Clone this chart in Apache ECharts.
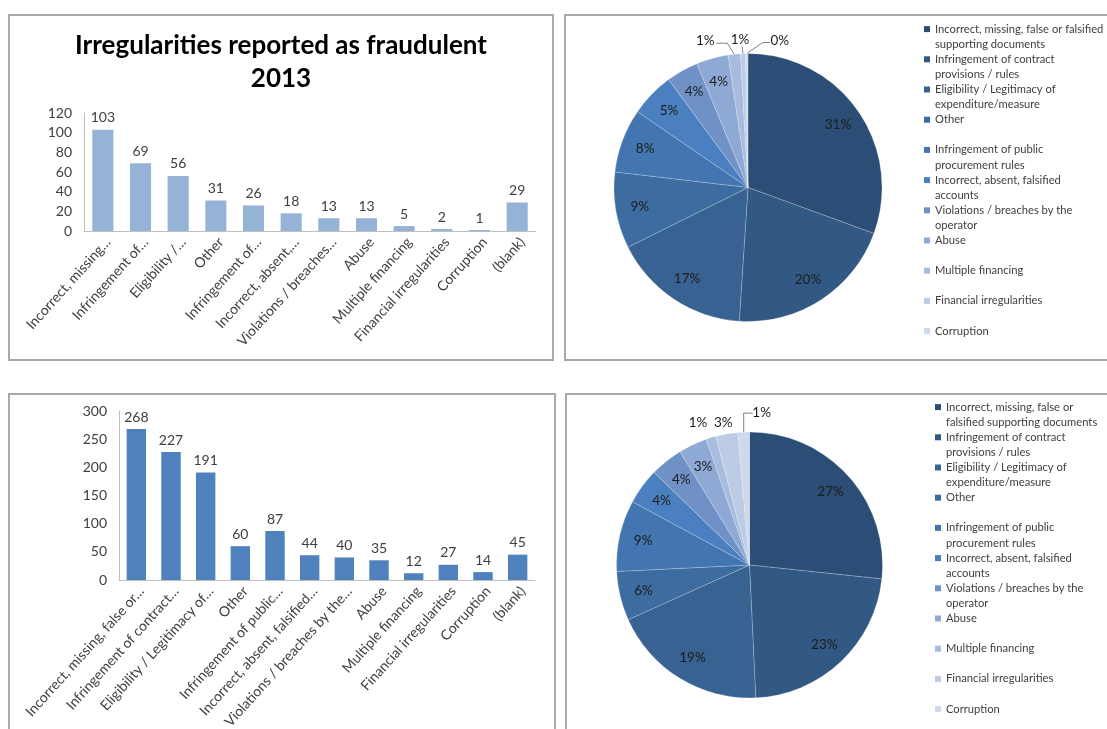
<!DOCTYPE html>
<html>
<head>
<meta charset="utf-8">
<title>Irregularities reported as fraudulent</title>
<script src="https://cdn.jsdelivr.net/npm/echarts@6/dist/echarts.min.js"></script>
<style>
  html, body { margin: 0; padding: 0; background: #ffffff; }
  #main { width: 1107px; height: 729px; }
</style>
</head>
<body>
<div id="main"></div>
<script>
// ---- data ----
const categories = [
  'Incorrect, missing, false or falsified supporting documents',
  'Infringement of contract provisions / rules',
  'Eligibility / Legitimacy of expenditure/measure',
  'Other',
  'Infringement of public procurement rules',
  'Incorrect, absent, falsified accounts',
  'Violations / breaches by the operator',
  'Abuse',
  'Multiple financing',
  'Financial irregularities',
  'Corruption',
  '(blank)'
];

// bar axis tick labels as printed (shortened)
const tickLabels2013 = [
  'Incorrect, missing…', 'Infringement of…', 'Eligibility /…', 'Other',
  'Infringement of…', 'Incorrect, absent,…', 'Violations / breaches…', 'Abuse',
  'Multiple financing', 'Financial irregularities', 'Corruption', '(blank)'
];
const tickLabelsSecond = [
  'Incorrect, missing, false or…', 'Infringement of contract…', 'Eligibility / Legitimacy of…', 'Other',
  'Infringement of public…', 'Incorrect, absent, falsified…', 'Violations / breaches by the…', 'Abuse',
  'Multiple financing', 'Financial irregularities', 'Corruption', '(blank)'
];

const values2013 = [103, 69, 56, 31, 26, 18, 13, 13, 5, 2, 1, 29];
const valuesSecond = [268, 227, 191, 60, 87, 44, 40, 35, 12, 27, 14, 45];

// legend entries (wrapped as printed)
const legendLinesTop = [
  'Incorrect, missing, false or falsified\nsupporting documents',
  'Infringement of contract\nprovisions / rules',
  'Eligibility / Legitimacy of\nexpenditure/measure',
  'Other',
  'Infringement of public\nprocurement rules',
  'Incorrect, absent, falsified\naccounts',
  'Violations / breaches by the\noperator',
  'Abuse',
  'Multiple financing',
  'Financial irregularities',
  'Corruption'
];
const legendLinesBottom = [
  'Incorrect, missing, false or\nfalsified supporting documents',
  'Infringement of contract\nprovisions / rules',
  'Eligibility / Legitimacy of\nexpenditure/measure',
  'Other',
  'Infringement of public\nprocurement rules',
  'Incorrect, absent, falsified\naccounts',
  'Violations / breaches by the\noperator',
  'Abuse',
  'Multiple financing',
  'Financial irregularities',
  'Corruption'
];

// ---- styling ----
const FONT = 'Lato';
const TXT = '#404040';
const pieColors = ['#2C4E76', '#325884', '#386292', '#3D6CA1', '#4376B0', '#4A80BF',
                   '#6F91C6', '#8EA9D3', '#A8BCDD', '#BDCCE5', '#CFD9EC'];

// pie geometry
const PIE_TOP = { cx: 748, cy: 187.5, r: 134 };
const PIE_BOT = { cx: 749.5, cy: 565, r: 133 };

// callout placement for the thin slices (offsets from the slice's outer-edge midpoint)
const calloutsTop = {
  8:  { dx: -29, dy: -14, line: (ax, ay, lx, ly) => [[lx + 11, ly + 3], [ax - 7, ly + 3], [ax, ay]] },
  9:  { dx: -3,  dy: -14, line: (ax, ay, lx, ly) => [[lx + 2, ly + 7], [lx + 2.5, ly + 10], [ax, ay]] },
  10: { dx: 33,  dy: -13, line: (ax, ay, lx, ly) => [[lx - 10, ly + 2], [lx - 17, ly + 2], [ax, ay]] }
};
const calloutsBottom = {
  8:  { dx: -13, dy: -15 },
  9:  { dx: -3.5, dy: -11 },
  10: { dx: 18, dy: -19, line: (ax, ay, lx, ly) => [[ax, ay], [ax, ly], [lx - 9, ly]] }
};

// legend marker: 6x6 square beside the first text line of a two-line slot
const legendIcon = 'path://M0,0L0,0M0,4.5L6,4.5L6,10.5L0,10.5ZM0,30L0,30';

function pieData(values, callouts) {
  return values.slice(0, 11).map((v, i) => {
    const c = callouts[i];
    return {
      name: categories[i],
      value: v,
      label: { position: c ? 'outside' : 'inside' },
      labelLine: { show: !!(c && c.line) }
    };
  });
}

function pieLabelLayout(values, geo, callouts) {
  const vals = values.slice(0, 11);
  const total = vals.reduce((a, b) => a + b, 0);
  const mids = [];
  let acc = 0;
  vals.forEach(v => { mids.push((acc + v / 2) / total * Math.PI * 2); acc += v; });
  return function (p) {
    const a = mids[p.dataIndex];
    const sx = Math.sin(a), sy = -Math.cos(a);
    const c = callouts[p.dataIndex];
    if (!c) {
      return { x: geo.cx + sx * geo.r * 0.82, y: geo.cy + sy * geo.r * 0.82,
               align: 'center', verticalAlign: 'middle' };
    }
    const ax = geo.cx + sx * geo.r, ay = geo.cy + sy * geo.r;
    const lx = ax + c.dx, ly = ay + c.dy;
    const out = { x: lx, y: ly, align: 'center', verticalAlign: 'middle' };
    if (c.line) out.labelLinePoints = c.line(ax, ay, lx, ly);
    return out;
  };
}

function pieSeries(values, geo, callouts) {
  return {
    type: 'pie',
    center: [geo.cx, geo.cy],
    radius: geo.r,
    startAngle: 90,
    clockwise: true,
    percentPrecision: 0,
    avoidLabelOverlap: false,
    color: pieColors,
    data: pieData(values, callouts),
    itemStyle: { borderColor: 'rgba(255,255,255,0.35)', borderWidth: 0.6 },
    label: { formatter: '{d}%', fontFamily: FONT, fontSize: 13.5, color: '#1c1c1c' },
    labelLine: { length: 5, length2: 5, lineStyle: { color: '#808080', width: 1 } },
    labelLayout: pieLabelLayout(values, geo, callouts),
    emphasis: { disabled: true }
  };
}

function categoryAxis(gridIndex, ticks, fontSize) {
  return {
    type: 'category', gridIndex, data: categories,
    axisLine: { lineStyle: { color: '#BFBFBF', width: 1 } },
    axisTick: { show: false },
    axisLabel: { interval: 0, rotate: 48, margin: 4, verticalAlign: 'top',
                 fontFamily: FONT, fontSize, color: TXT,
                 formatter: (v, i) => ticks[i] }
  };
}

function valueAxis(gridIndex, max, interval) {
  return {
    type: 'value', gridIndex, min: 0, max, interval,
    axisLine: { show: true, lineStyle: { color: '#BFBFBF' } }, axisTick: { show: false },
    splitLine: { show: false },
    axisLabel: { margin: 12, fontFamily: FONT, fontSize: 14, color: TXT }
  };
}

function legendFor(top, left, lines) {
  return {
    orient: 'vertical', left, top, height: 345, padding: 0, itemGap: 0,
    itemWidth: 6, itemHeight: 30.2, icon: legendIcon,
    selectedMode: false,
    data: categories.slice(0, 11),
    formatter: name => {
      const t = lines[categories.indexOf(name)];
      return t.indexOf('\n') >= 0 ? t : t + '\n ';
    },
    itemStyle: { borderWidth: 0 },
    textStyle: { fontFamily: FONT, fontSize: 11.2, lineHeight: 15.1, color: TXT }
  };
}

function barSeries(axisIndex, values, color) {
  return {
    type: 'bar', xAxisIndex: axisIndex, yAxisIndex: axisIndex, data: values, barWidth: '56%',
    itemStyle: { color },
    label: { show: true, position: 'top', distance: 5, fontFamily: FONT, fontSize: 14, color: TXT },
    emphasis: { disabled: true }
  };
}

const panelBorder = { stroke: '#A9A9A9', fill: 'none', lineWidth: 2 };

const chart = echarts.init(document.getElementById('main'), null, { renderer: 'canvas' });

chart.setOption({
  backgroundColor: '#ffffff',
  animation: false,
  title: {
    text: 'Irregularities reported as fraudulent\n2013',
    left: 281, top: 29.5, textAlign: 'center', padding: 0,
    textStyle: { fontFamily: FONT, fontSize: 26, fontWeight: 'bold', lineHeight: 32.5, color: '#000000' }
  },
  graphic: [
    { type: 'rect', shape: { x: 9, y: 15, width: 544, height: 345 }, style: panelBorder, silent: true },
    { type: 'rect', shape: { x: 565, y: 15, width: 570, height: 345 }, style: panelBorder, silent: true },
    { type: 'rect', shape: { x: 9, y: 394, width: 546, height: 360 }, style: panelBorder, silent: true },
    { type: 'rect', shape: { x: 566, y: 394, width: 570, height: 360 }, style: panelBorder, silent: true }
  ],
  grid: [
    { left: 84, top: 113, width: 452, height: 118, outerBoundsMode: 'none', containLabel: false },
    { left: 119, top: 411, width: 416, height: 169, outerBoundsMode: 'none', containLabel: false }
  ],
  xAxis: [categoryAxis(0, tickLabels2013, 14), categoryAxis(1, tickLabelsSecond, 14)],
  yAxis: [valueAxis(0, 120, 20), valueAxis(1, 300, 50)],
  legend: [
    legendFor(21.5, 924, legendLinesTop),
    legendFor(399.5, 935, legendLinesBottom)
  ],
  series: [
    barSeries(0, values2013, '#95B3D7'),
    barSeries(1, valuesSecond, '#4F81BD'),
    pieSeries(values2013, PIE_TOP, calloutsTop),
    pieSeries(valuesSecond, PIE_BOT, calloutsBottom)
  ]
});
</script>
</body>
</html>
